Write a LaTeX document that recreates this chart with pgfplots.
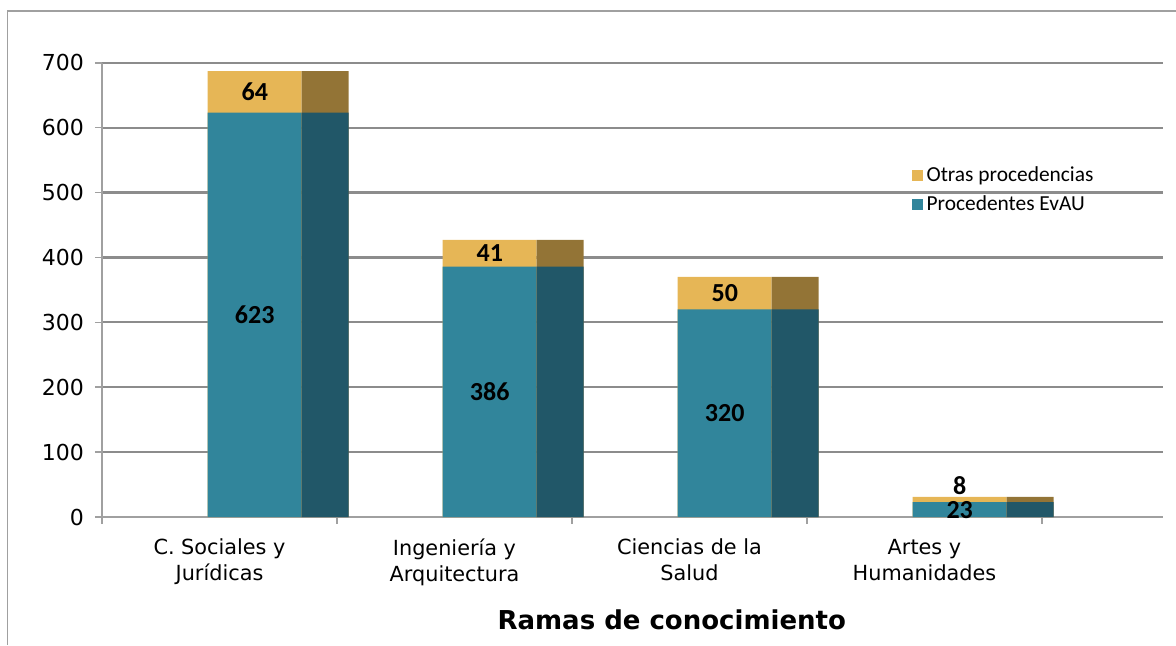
\documentclass[border=0pt]{standalone}
\usepackage{pgfplots}
\pgfplotsset{compat=1.18}
\usepackage{fontspec}
\setmainfont{DejaVu Sans}
\newfontfamily\calibri{Carlito}
\definecolor{tealF}{RGB}{49,133,155}
\definecolor{tealS}{RGB}{33,87,104}
\definecolor{goldF}{RGB}{230,182,86}
\definecolor{goldS}{RGB}{147,116,54}
\definecolor{gridc}{RGB}{140,140,140}
\definecolor{axisc}{RGB}{160,160,160}
\begin{document}
\begin{tikzpicture}
\useasboundingbox (-51pt,-64pt) rectangle (537pt,258.5pt);
\draw[axisc, line width=0.8pt] (-47.25pt,-64pt) -- (-47.25pt,253pt) -- (537pt,253pt);
\begin{axis}[
  at={(0pt,0pt)}, anchor=south west,
  scale only axis, width=530.5pt, height=227.15pt,
  xmin=0, xmax=4.515, ymin=0, ymax=700,
  axis x line*=bottom, axis y line*=left,
  axis line style={axisc, line width=1pt, -},
  ytick={0,100,...,700},
  ymajorgrids,
  major grid style={gridc, line width=1.1pt},
  tick align=outside,
  major tick length=3.5pt,
  tick style={axisc, line width=0.8pt},
  xtick={0,1,2,3,4}, xticklabels={},
  extra x ticks={0.5,1.5,2.5,3.5},
  extra x tick labels={{C. Sociales y\\Jurídicas},{Ingeniería y\\Arquitectura},{Ciencias de la\\Salud},{Artes y\\Humanidades}},
  extra x tick style={major tick length=0pt, xmajorgrids=false,
     tick label style={align=center, font=\fontsize{10.4}{13}\selectfont, yshift=-7.5pt}},
  yticklabel style={font=\fontsize{11}{13}\selectfont, xshift=-2pt},
  /pgf/number format/assume math mode=true,
  xlabel={Ramas de conocimiento},
  xlabel style={at={(axis description cs:0.537,-0.227)}, anchor=center, font=\bfseries\fontsize{13}{15}\selectfont},
  legend style={at={(axis description cs:0.757,0.79)}, anchor=north west, draw=none, fill=none,
     font=\calibri\fontsize{10.7}{12}\selectfont, row sep=1.5pt},
  legend cell align=left,
  legend image code/.code={\fill[#1] (0pt,-2.75pt) rectangle (5.5pt,2.75pt);},
  clip=false,
]
% front faces
\addplot[ybar, bar width=0.4, bar shift=0pt, fill=goldF, draw=none]
  coordinates {(0.65,687) (1.65,427) (2.65,370) (3.65,31)};
\addlegendentry{Otras procedencias}
\addplot[ybar, bar width=0.4, bar shift=0pt, fill=tealF, draw=none]
  coordinates {(0.65,623) (1.65,386) (2.65,320) (3.65,23)};
\addlegendentry{Procedentes EvAU}
% side faces
\addplot[ybar, bar width=0.2, bar shift=0pt, fill=goldS, draw=none, forget plot]
  coordinates {(0.95,687) (1.95,427) (2.95,370) (3.95,31)};
\addplot[ybar, bar width=0.2, bar shift=0pt, fill=tealS, draw=none, forget plot]
  coordinates {(0.95,623) (1.95,386) (2.95,320) (3.95,23)};
% labels
\addplot[draw=none, mark=none, forget plot, nodes near coords, point meta=explicit symbolic,
  nodes near coords align=center, every node near coord/.append style={font=\calibri\bfseries\fontsize{13}{15}\selectfont, text=black, inner sep=0pt}]
  coordinates {(0.65,311.5)[623] (0.65,655)[64] (1.65,193)[386] (1.65,406.5)[41]
               (2.65,160)[320] (2.65,345)[50] (3.65,11)[23] (3.65,49)[8]};
\end{axis}
\end{tikzpicture}
\end{document}
